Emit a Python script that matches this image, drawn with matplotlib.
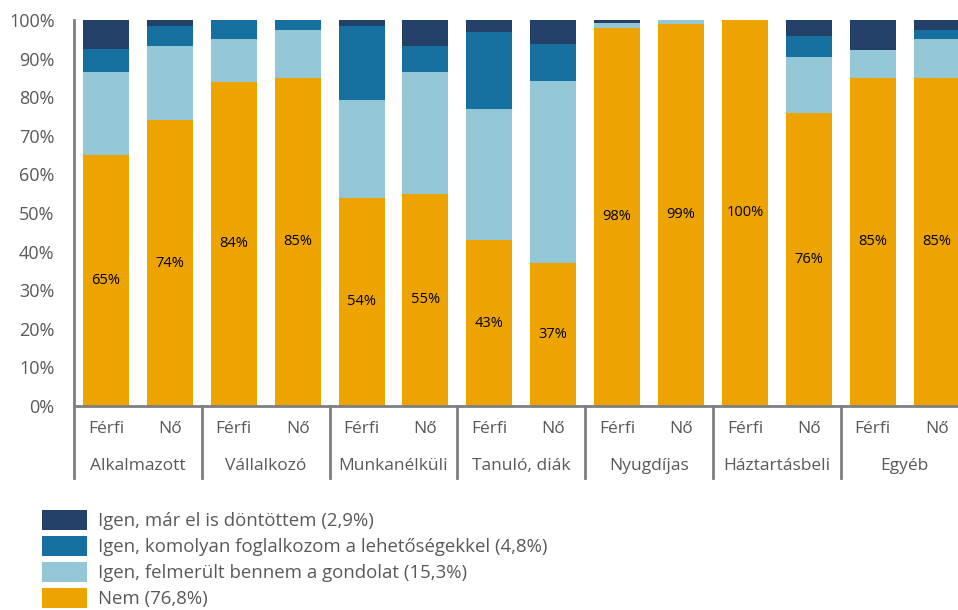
import matplotlib
matplotlib.use("Agg")
import matplotlib.pyplot as plt
from matplotlib.patches import Patch
import numpy as np

plt.rcParams['font.family'] = ['Open Sans', 'DejaVu Sans']

groups = ["Alkalmazott", "Vállalkozó", "Munkanélküli", "Tanuló, diák",
          "Nyugdíjas", "Háztartásbeli", "Egyéb"]
genders = ["Férfi", "Nő"]

nem        = [65, 74, 84, 85, 54, 55, 43, 37, 98, 99, 100, 76, 85, 85]
felmerult  = [21.5, 19.3, 11.1, 12.4, 25.3, 31.5, 33.9, 47.2, 1.2, 1.0, 0, 14.4, 7.2, 10.1]
komolyan   = [6.0, 5.1, 4.9, 2.6, 19.1, 6.8, 20.0, 9.6, 0, 0, 0, 5.5, 0, 2.3]
dontottem  = [7.5, 1.6, 0, 0, 1.6, 6.7, 3.1, 6.2, 0.8, 0, 0, 4.1, 7.8, 2.6]

series_labels = ["Nem (76,8%)",
                 "Igen, felmerült bennem a gondolat (15,3%)",
                 "Igen, komolyan foglalkozom a lehetőségekkel (4,8%)",
                 "Igen, már el is döntöttem (2,9%)"]
colors = ["#EDA400", "#94C7D5", "#1570A0", "#234168"]

gray = "#595959"
fig = plt.figure(figsize=(9.58, 6.10), dpi=100)
ax = fig.add_axes([74/958, 1-406/610, 894.6/958, 386/610])

x = np.arange(len(nem))
w = 0.72
bottom = np.zeros(len(nem))
containers = []
for vals, col, lab in zip([nem, felmerult, komolyan, dontottem], colors, series_labels):
    c = ax.bar(x, vals, w, bottom=bottom, color=col, label=lab, linewidth=0)
    containers.append(c)
    bottom += np.array(vals)

ax.bar_label(containers[0], labels=[f"{v:.0f}%" for v in nem], label_type='center',
             fontsize=10.5, color="black")

ax.set_xlim(-0.5, len(nem) - 0.5)
ax.set_ylim(0, 100)
ax.set_yticks(np.arange(0, 101, 10))
ax.set_yticklabels([f"{v}%" for v in range(0, 101, 10)], fontsize=13, color=gray)
ax.tick_params(axis='y', length=0, pad=14)
ax.tick_params(axis='x', length=0)
ax.set_xticks([])
for s in ["top", "right"]:
    ax.spines[s].set_visible(False)
ax.spines["left"].set_color("#7f7f7f")
ax.spines["left"].set_linewidth(2)
ax.spines["bottom"].set_color("#7f7f7f")
ax.spines["bottom"].set_linewidth(2)

trans = ax.get_xaxis_transform()
depth = -(478 - 406) / 386
for k in range(len(groups)):
    xs = -0.5 + 2 * k
    ax.plot([xs, xs], [0, depth], transform=trans, color="#7f7f7f", lw=2, clip_on=False)
for i in range(len(nem)):
    ax.text(i, -(429 - 406) / 386, genders[i % 2], transform=trans, ha='center', va='center',
            fontsize=12.5, color=gray)
for k, g in enumerate(groups):
    ax.text(2 * k + 0.5, -(466 - 406) / 386, g, transform=trans, ha='center', va='center',
            fontsize=12.5, color=gray)

h = [Patch(facecolor=c, edgecolor='none') for c in colors][::-1]
fig.legend(h, series_labels[::-1], loc='upper left', bbox_to_anchor=(42/958, 1-510/610),
           frameon=False, fontsize=13.4, labelcolor=gray, handlelength=2.42, handleheight=1.24,
           labelspacing=0.32, handletextpad=0.6, borderaxespad=0, borderpad=0)

fig.savefig("out.png", dpi=100)
